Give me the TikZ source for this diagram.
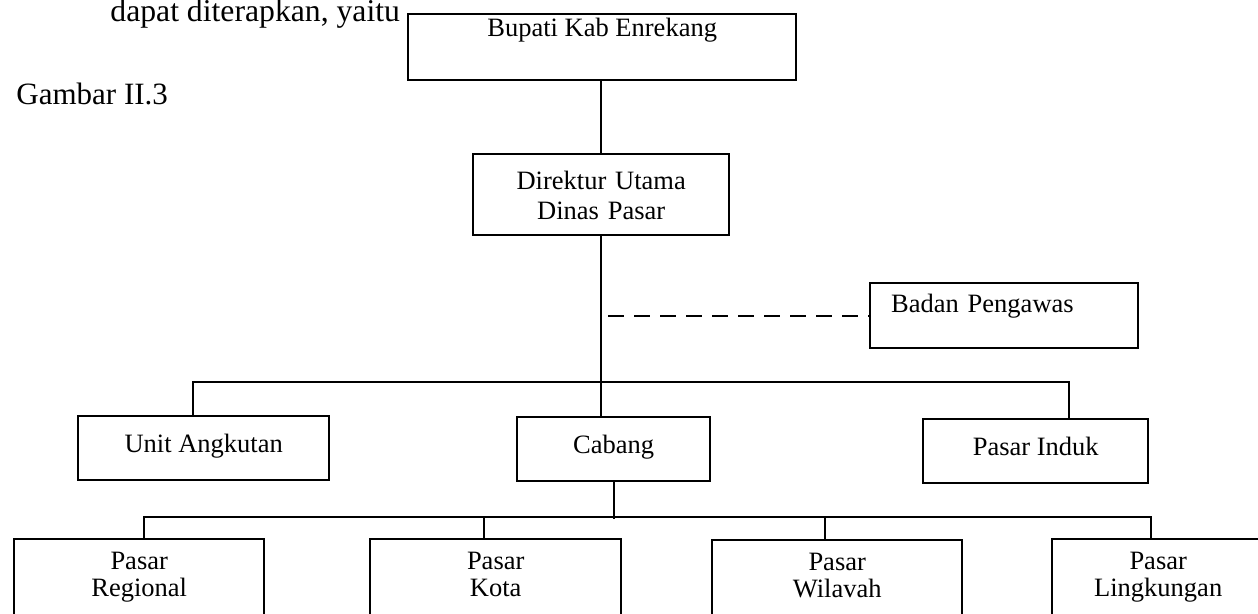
\documentclass[tikz,border=0pt]{standalone}
\usepackage{fontspec}
\setmainfont{Liberation Serif}
\begin{document}
\begin{tikzpicture}[x=0.5pt,y=-0.5pt,
  orgbox/.style={draw, line width=1.2pt, inner sep=0pt, font=\fontsize{13.25}{15}\selectfont},
  onebox/.style={orgbox, anchor=north west, text height=18.25pt, text depth=13.75pt},
  lowbox/.style={orgbox, anchor=north west, align=center, text height=15pt, text depth=36pt,
     font=\fontsize{13.25}{13.5}\selectfont},
  link/.style={line width=1.2pt},
  dashlink/.style={line width=1.1pt, dash pattern=on 8pt off 5pt}]
\useasboundingbox (0,0) rectangle (1258,614);
\fill[white] (0,0) rectangle (1258,614);
\clip (0,0) rectangle (1258,614);

\node[anchor=base west, inner sep=0pt, font=\fontsize{15.85}{18}\selectfont] (intro) at (110,22) {dapat diterapkan, yaitu};
\node[anchor=base west, inner sep=0pt, font=\fontsize{15.5}{18}\selectfont] (fig) at (16,105) {Gambar II.3};

\node[orgbox, anchor=north west, minimum width=194pt, text height=11pt, text depth=22pt] (bup) at (407,13) {Bupati Kab Enrekang};
\node[orgbox, anchor=north west, text width=128pt, align=center, text height=17.75pt, text depth=22.75pt] (dir) at (472,153) {Direktur Utama\\Dinas Pasar};
\node[orgbox, anchor=north west, text width=113pt, inner xsep=10.5pt, align=left, text height=14.5pt, text depth=18pt] (bad) at (869,282) {Badan Pengawas};

\node[onebox, minimum width=125.5pt] (unit) at (77,415) {Unit Angkutan};
\node[onebox, minimum width=96.5pt] (cab) at (516,416) {Cabang};
\node[onebox, minimum width=112.5pt] (pind) at (922,418) {Pasar Induk};

\node[lowbox, text width=125pt] (reg) at (13,538) {Pasar\\Regional};
\node[lowbox, text width=125.5pt] (kota) at (369,538) {Pasar\\Kota};
\node[lowbox, text width=125pt] (wil) at (711,539) {Pasar\\Wilavah};
\node[lowbox, text width=106pt] (ling) at (1051,538) {Pasar\\Lingkungan};

\draw[link] (dir.north |- bup.south) -- (dir.north);
\draw[link] (dir.south) -- (dir.south |- cab.north);
\draw[dashlink] ([xshift=3.5pt]dir.south |- bad.west) -- (bad.west);
\draw[link] ([xshift=-5.25pt]unit.north) -- ++(0,-33) -| ([xshift=16.75pt]pind.north);
\draw[link] (cab.south) -- ++(0,37);
\draw[link] ([xshift=2.5pt]reg.north) -- ++(0,-21) -| ([xshift=-3.5pt]ling.north);
\draw[link] ([xshift=-5.75pt]kota.north) -- ++(0,-21);
\draw[link] ([xshift=-6pt]wil.north) -- ++(0,-22);
\end{tikzpicture}
\end{document}
